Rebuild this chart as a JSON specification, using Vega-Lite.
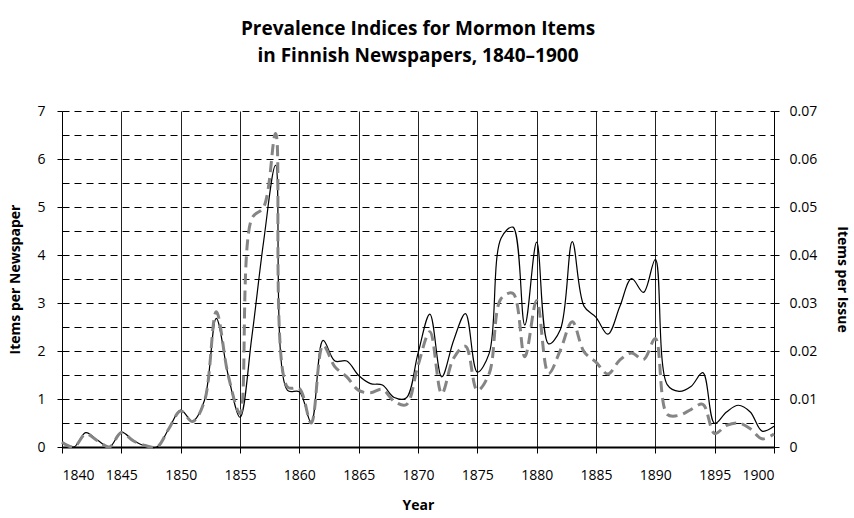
{
  "$schema": "https://vega.github.io/schema/vega-lite/v6.json",
  "width": 712,
  "height": 336,
  "autosize": "none",
  "padding": {"left": 62, "top": 111, "right": 80, "bottom": 71},
  "background": "white",
  "config": {
    "view": {"stroke": null},
    "font": "Open Sans",
    "axis": {"labelFont": "Open Sans", "titleFont": "Open Sans", "labelColor": "#000", "titleColor": "#000", "labelFontSize": 14, "titleFontSize": 14, "titleFontWeight": "bold"}
  },
  "title": {
    "text": ["Prevalence Indices for Mormon Items", "in Finnish Newspapers, 1840–1900"],
    "font": "Open Sans",
    "fontSize": 19,
    "fontWeight": "bold",
    "color": "#000",
    "anchor": "middle",
    "lineHeight": 27,
    "offset": 38
  },
  "data": {
    "values": [
      {"year": 1840, "newspaper": 0.10, "issue": 0.0010},
      {"year": 1841, "newspaper": 0.00, "issue": 0.0000},
      {"year": 1842, "newspaper": 0.30, "issue": 0.0027},
      {"year": 1843, "newspaper": 0.14, "issue": 0.0013},
      {"year": 1844, "newspaper": 0.00, "issue": 0.0000},
      {"year": 1845, "newspaper": 0.31, "issue": 0.0030},
      {"year": 1846, "newspaper": 0.14, "issue": 0.0013},
      {"year": 1847, "newspaper": 0.02, "issue": 0.0003},
      {"year": 1848, "newspaper": 0.00, "issue": 0.0000},
      {"year": 1849, "newspaper": 0.38, "issue": 0.0038},
      {"year": 1850, "newspaper": 0.77, "issue": 0.0075},
      {"year": 1851, "newspaper": 0.54, "issue": 0.0053},
      {"year": 1852, "newspaper": 0.97, "issue": 0.0095},
      {"year": 1853, "newspaper": 2.68, "issue": 0.0282},
      {"year": 1854, "newspaper": 1.50, "issue": 0.0150},
      {"year": 1855, "newspaper": 0.62, "issue": 0.0070},
      {"year": 1856, "newspaper": 2.30, "issue": 0.0476},
      {"year": 1857, "newspaper": 4.30, "issue": 0.0500},
      {"year": 1858, "newspaper": 5.87, "issue": 0.0653},
      {"year": 1859, "newspaper": 1.18, "issue": 0.0125},
      {"year": 1860, "newspaper": 1.15, "issue": 0.0122},
      {"year": 1861, "newspaper": 0.51, "issue": 0.0050},
      {"year": 1862, "newspaper": 2.22, "issue": 0.0212},
      {"year": 1863, "newspaper": 1.79, "issue": 0.0167},
      {"year": 1864, "newspaper": 1.79, "issue": 0.0146},
      {"year": 1865, "newspaper": 1.49, "issue": 0.0118},
      {"year": 1866, "newspaper": 1.32, "issue": 0.0113},
      {"year": 1867, "newspaper": 1.29, "issue": 0.0120},
      {"year": 1868, "newspaper": 1.03, "issue": 0.0095},
      {"year": 1869, "newspaper": 1.02, "issue": 0.0088},
      {"year": 1870, "newspaper": 1.95, "issue": 0.0170},
      {"year": 1871, "newspaper": 2.77, "issue": 0.0240},
      {"year": 1872, "newspaper": 1.46, "issue": 0.0111},
      {"year": 1873, "newspaper": 2.22, "issue": 0.0185},
      {"year": 1874, "newspaper": 2.78, "issue": 0.0210},
      {"year": 1875, "newspaper": 1.56, "issue": 0.0118},
      {"year": 1876, "newspaper": 1.95, "issue": 0.0153},
      {"year": 1877, "newspaper": 4.35, "issue": 0.0309},
      {"year": 1878, "newspaper": 4.58, "issue": 0.0320},
      {"year": 1879, "newspaper": 2.54, "issue": 0.0188},
      {"year": 1880, "newspaper": 4.27, "issue": 0.0305},
      {"year": 1881, "newspaper": 2.15, "issue": 0.0153},
      {"year": 1882, "newspaper": 2.45, "issue": 0.0202},
      {"year": 1883, "newspaper": 4.28, "issue": 0.0261},
      {"year": 1884, "newspaper": 2.93, "issue": 0.0198},
      {"year": 1885, "newspaper": 2.70, "issue": 0.0177},
      {"year": 1886, "newspaper": 2.35, "issue": 0.0152},
      {"year": 1887, "newspaper": 2.92, "issue": 0.0181},
      {"year": 1888, "newspaper": 3.51, "issue": 0.0196},
      {"year": 1889, "newspaper": 3.22, "issue": 0.0182},
      {"year": 1890, "newspaper": 3.91, "issue": 0.0226},
      {"year": 1891, "newspaper": 1.30, "issue": 0.0068},
      {"year": 1892, "newspaper": 1.16, "issue": 0.0066},
      {"year": 1893, "newspaper": 1.26, "issue": 0.0078},
      {"year": 1894, "newspaper": 1.55, "issue": 0.0089},
      {"year": 1895, "newspaper": 0.49, "issue": 0.0028},
      {"year": 1896, "newspaper": 0.73, "issue": 0.0045},
      {"year": 1897, "newspaper": 0.87, "issue": 0.0050},
      {"year": 1898, "newspaper": 0.73, "issue": 0.0038},
      {"year": 1899, "newspaper": 0.33, "issue": 0.0017},
      {"year": 1900, "newspaper": 0.43, "issue": 0.0027}
    ]
  },
  "encoding": {
    "x": {
      "field": "year",
      "type": "quantitative",
      "scale": {"domain": [1840, 1900], "nice": false, "zero": false},
      "axis": {
        "title": "Year",
        "values": [1840, 1845, 1850, 1855, 1860, 1865, 1870, 1875, 1880, 1885, 1890, 1895, 1900],
        "format": "d",
        "grid": true,
        "gridColor": "#222",
        "gridWidth": 1,
        "domainColor": "#000",
        "domainWidth": 2,
        "tickColor": "#000",
        "tickSize": 6,
        "labelPadding": 15,
        "titlePadding": 16
      }
    }
  },
  "layer": [
    {
      "mark": {"type": "line", "color": "#000", "strokeWidth": 1.2, "interpolate": "catmull-rom"},
      "encoding": {
        "y": {
          "field": "newspaper",
          "type": "quantitative",
          "scale": {"domain": [0, 7], "nice": false},
          "axis": {
            "orient": "left",
            "title": "Items per Newspaper",
            "values": [0, 0.5, 1, 1.5, 2, 2.5, 3, 3.5, 4, 4.5, 5, 5.5, 6, 6.5, 7],
            "labelExpr": "datum.value % 1 === 0 ? format(datum.value, 'd') : ''",
            "grid": true,
            "gridColor": "#000",
            "gridDash": [7, 5],
            "gridWidth": 1,
            "domainColor": "#000",
            "tickColor": "#000",
            "tickSize": 5,
            "tickOpacity": {"condition": {"test": "datum.value % 1 === 0", "value": 1}, "value": 0},
            "labelPadding": 12,
            "titlePadding": 14
          }
        }
      }
    },
    {
      "mark": {"type": "line", "color": "#858585", "strokeWidth": 3, "strokeDash": [11, 6], "interpolate": "catmull-rom"},
      "encoding": {
        "y": {
          "field": "issue",
          "type": "quantitative",
          "scale": {"domain": [0, 0.07], "nice": false},
          "axis": {
            "orient": "right",
            "title": "Items per Issue",
            "values": [0, 0.01, 0.02, 0.03, 0.04, 0.05, 0.06, 0.07],
            "labelExpr": "datum.value === 0 ? '0' : format(datum.value, '.2f')",
            "grid": false,
            "domainColor": "#000",
            "tickColor": "#000",
            "tickSize": 5,
            "labelPadding": 10,
            "titlePadding": 18
          }
        }
      }
    }
  ],
  "resolve": {"scale": {"y": "independent"}}
}
